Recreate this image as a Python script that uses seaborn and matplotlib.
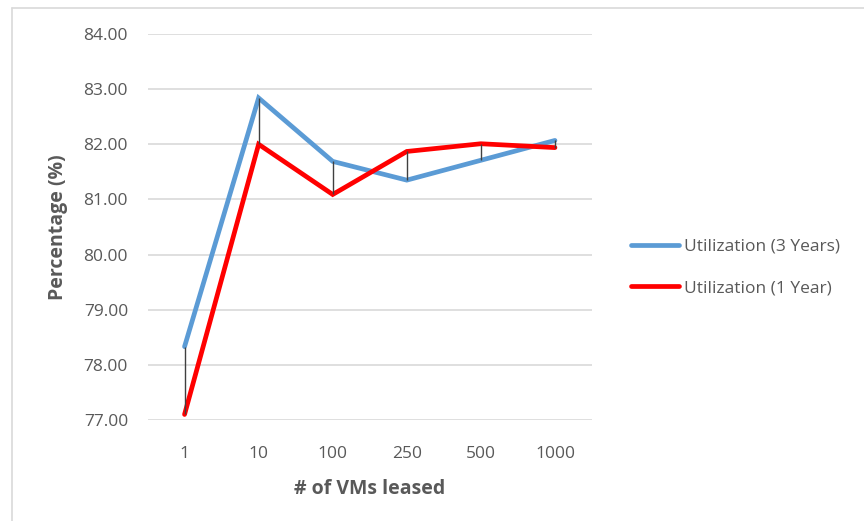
import matplotlib
matplotlib.use("Agg")
import matplotlib.pyplot as plt
import seaborn as sns
import pandas as pd
from matplotlib.lines import Line2D

categories = ["1", "10", "100", "250", "500", "1000"]
util_3y = [78.33, 82.84, 81.69, 81.35, 81.71, 82.07]
util_1y = [77.10, 82.00, 81.09, 81.87, 82.01, 81.94]
series_names = ["Utilization (3 Years)", "Utilization (1 Year)"]
y_ticks = [77, 78, 79, 80, 81, 82, 83, 84]

sns.set_theme(style="white")
plt.rcParams["font.family"] = ["Open Sans", "DejaVu Sans"]

df = pd.DataFrame({
    "VMs": categories * 2,
    "Utilization": util_3y + util_1y,
    "Series": [series_names[0]] * len(categories) + [series_names[1]] * len(categories),
})

fig = plt.figure(figsize=(8.64, 5.21), dpi=100)
ax = fig.add_axes([147.5 / 864, 0.1939, (592 - 147.5) / 864, 0.7408])

palette = {series_names[0]: "#5B9BD5", series_names[1]: "#FF0000"}
sns.lineplot(data=df, x="VMs", y="Utilization", hue="Series", palette=palette,
             sort=False, linewidth=3.4, ax=ax, legend=False,
             solid_capstyle="round", solid_joinstyle="miter", zorder=3)

# high-low (drop) lines between series
xs = list(range(len(categories)))
ax.vlines(xs, util_1y, util_3y, colors="#404040", linewidth=1.0, zorder=4)

ax.set_xlim(-0.5, len(categories) - 0.5)
ax.set_ylim(77, 84)
ax.set_yticks(y_ticks)
ax.set_yticklabels([f"{v:.2f}" for v in y_ticks])
ax.grid(axis="y", color="#D9D9D9", linewidth=1.2, zorder=0)
ax.grid(axis="x", visible=False)
for s in ax.spines.values():
    s.set_visible(False)
ax.tick_params(axis="both", length=0, labelsize=12.5, labelcolor="#595959")
ax.tick_params(axis="y", pad=14)
ax.tick_params(axis="x", pad=19)

ax.set_xlabel("# of VMs leased", fontsize=14, fontweight="bold", color="#595959", labelpad=12)
ax.set_ylabel("Percentage (%)", fontsize=14, fontweight="bold", color="#595959", labelpad=11)

handles = [Line2D([0], [0], color=palette[n], linewidth=3.4, solid_capstyle="round") for n in series_names]
leg = fig.legend(handles, series_names, loc="center left", bbox_to_anchor=(0.712, 0.487),
                 frameon=False, fontsize=12.5, handlelength=2.75, handletextpad=0.3,
                 labelspacing=1.45)
for t in leg.get_texts():
    t.set_color("#595959")

# chart-area border
fig.add_artist(Line2D([11.5 / 864, 11.5 / 864], [0, 1 - 7.5 / 521], color="#D9D9D9", linewidth=1.2,
                      transform=fig.transFigure))
fig.add_artist(Line2D([11.5 / 864, 1], [1 - 7.5 / 521, 1 - 7.5 / 521], color="#D9D9D9", linewidth=1.2,
                      transform=fig.transFigure))

fig.savefig("out.png", dpi=100)
